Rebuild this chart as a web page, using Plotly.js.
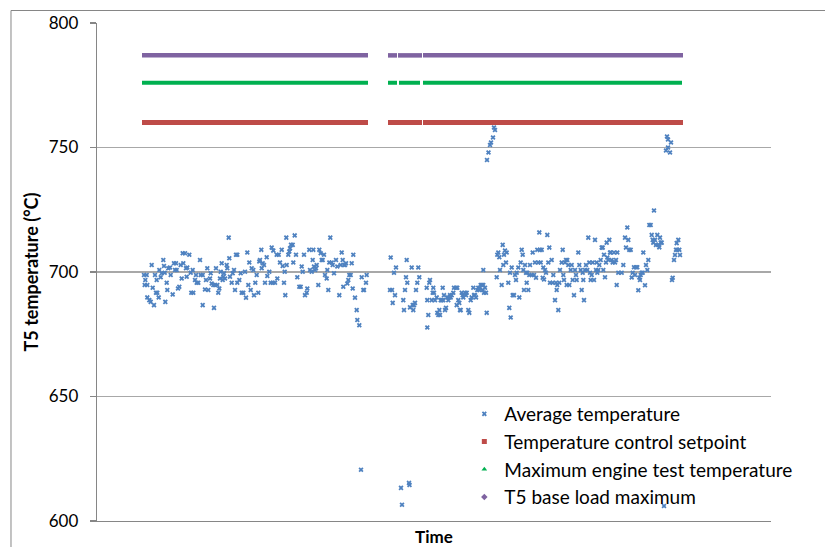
<!DOCTYPE html>
<html>
<head>
<meta charset="utf-8">
<script src="https://cdn.plot.ly/plotly-3.0.1.min.js"></script>
<style>html,body{margin:0;padding:0;background:#fff;}#chart{width:825px;height:547px;}</style>
</head>
<body>
<div id="chart"></div>
<script>
// Time (arbitrary units, no labels on the axis) and average T5 temperature (°C)
const avgPeriodA = [
[47,698.8],[49.7,698.8],[48.3,696.8],[47.7,694.8],[50.3,694.8],[54.7,702.8],[55.7,693.7],[50.3,689.8],[52.3,688.7],[53.7,688.0],
[57,686.7],[58,698.8],[59.7,696.8],[59,691.7],[60.3,691.7],[61.7,689.8],[62.3,700.8],[63.7,697.9],[64.7,699.5],[66.3,704.8],
[67,702.4],[67.7,699.7],[68.3,688.0],[69.7,695.7],[70.3,692.8],[71.3,701.5],[73,701.8],[73.7,698.8],[75.7,691.0],[77,703.5],
[78,700.8],[79,703.5],[79.7,700.8],[81,693.4],[82.3,694.1],[83.7,702.8],[84.7,697.4],[85.7,707.5],[86.3,703.5],[88,707.5],
[89,701.5],[89.7,698.1],[90.3,701.8],[92.3,706.9],[93.7,699.7],[94.3,691.7],[96.3,691.7],[95.7,700.8],[98,696.8],[99,698.8],
[99.7,695.7],[101.3,695.7],[103,704.8],[103.7,698.8],[105.7,686.7],[105.7,698.8],[108,693.0],[109,696.8],[110.3,701.5],[111.3,692.8],
[113,697.4],[113.7,699.5],[114.7,695.4],[116.3,694.8],[117,685.6],[118,694.8],[119,701.5],[120.3,694.8],[121.3,691.7],[122.3,693.4],
[123,697.4],[123.7,700.1],[124.7,703.5],[125.7,696.8],[126.3,698.1],[127,699.5],[128,697.4],[129.7,702.8],[130.3,701.5],[131.7,713.8],
[132.3,705.5],[133,698.1],[134.7,695.7],[135.7,699.5],[137,700.8],[138,692.8],[139,706.9],[140.3,706.9],[140.3,695.7],[142.3,696.8],
[143.7,699.5],[144.7,691.7],[146.3,691.7],[148,700.1],[149,689.7],[150.3,707.8],[151.3,694.8],[152.3,703.8],[153.7,692.8],[154.7,701.5],
[156.3,700.8],[157,690.7],[158.3,695.7],[159.7,698.8],[161.3,691.7],[162.3,704.2],[163,704.8],[164.3,708.9],[164.7,701.5],[165.7,703.5],
[167,702.8],[168,695.7],[169.7,705.9],[170.3,698.4],[172.3,700.1],[173.7,695.7],[174.7,709.8],[175.7,695.7],[176.3,708.6],[178,695.7],
[179.7,706.9],[180.3,697.4],[181.7,706.9],[183,703.8],[184.7,708.9],[185.7,702.4],[187,695.7],[187.7,700.1],[188.3,690.7],[189.3,713.8],
[189.7,702.8],[191.3,706.9],[192.3,708.2],[193,709.5],[194,710.9],[195.7,710.9],[196.3,703.8],[197.7,714.7],[199,706.9],[200.3,697.9],
[202.3,694.1],[203.7,694.1],[204.7,702.2],[205.7,700.1],[207,706.9],[208,690.7],[209.7,691.7],[210.3,693.4],[212.3,708.9],[213,700.8],
[214.7,700.1],[215.7,704.8],[216.3,708.9],[217,702.2],[218,700.8],[219,701.5],[219.7,702.8],[221.3,694.8],[222.3,708.9],[223.7,707.5],
[224.7,704.8],[225.7,704.8],[227,706.9],[228,698.8],[229.7,697.4],[230.3,700.8],[231.3,692.8],[232.3,703.8],[233.3,713.8],[234.7,703.8],
[235.7,702.8],[237,699.5],[239,704.8],[240.3,702.2],[242.3,690.7],[243.7,702.8],[244.7,707.8],[245.7,704.8],[246.3,694.1],[247,702.8],
[248,702.8],[249,703.5],[250.3,695.4],[251.3,696.8],[252.3,698.8],[253.7,698.8],[254.7,703.5],[255.7,693.4],[256.3,706.9],[258,689.7],
[259.7,684.7],[260.3,680.7],[262.3,678.6],[264.7,697.9],[266.3,692.8],[267,692.8],[269,695.7],[269.7,698.8]
];
const avgPeriodB = [
[293.7,705.8],[297,699.7],[299,701.8],[293,692.8],[295,692.8],[295.7,687.6],[298,690.7],[306.3,688.7],[307,684.7],[308,692.8],
[309,697.9],[309.7,704.8],[310.3,695.7],[313,685.8],[314.7,701.8],[315.7,686.7],[317,686.7],[318,687.6],[316.3,684.7],[319,692.8],
[320.3,695.7],[321.3,701.8],[322.3,697.9],[329.7,693.7],[330.3,688.7],[331.3,682.7],[332.3,695.7],[333,696.8],[330.3,677.7],[334.7,688.7],
[335.7,691.7],[336.3,693.7],[337,691.7],[338,688.7],[339.7,689.8],[340.3,683.6],[341.3,682.7],[343,682.7],[342.3,684.7],[343.7,688.7],
[344.7,688.7],[345.7,693.7],[346.3,688.7],[347,690.7],[348,684.7],[349,685.6],[350.3,689.8],[351.3,688.7],[352.3,689.8],[353,690.7],
[353.7,689.8],[354.7,690.7],[356.3,691.7],[357,693.7],[359,693.7],[359.7,686.7],[360.3,693.7],[361.3,688.7],[362.3,687.6],[363,684.7],
[363.7,684.7],[364.7,691.7],[365.7,690.7],[366.3,689.8],[368,691.7],[369,690.7],[369.7,691.7],[371.3,684.7],[372.3,683.6],[373.7,688.7],
[374.7,689.8],[376.3,693.7],[377,690.7],[378,690.7],[379,689.8],[380.3,692.8],[381.3,693.7],[382.3,692.8],[383,693.7],[383.7,694.8],
[385,694.8],[385.7,692.8],[386.3,694.8],[387,691.7],[388,693.7],[389,691.7],[389.7,683.6],[386.3,700.8],[399.7,697.9],[400.3,706.9],
[401.3,707.8],[402.3,705.9],[403,700.8],[404.7,694.8],[405.7,710.9],[406.3,702.8],[407,706.9],[408,708.6],[409,703.8],[409.7,707.8],
[411.3,695.7],[412.3,685.6],[413,699.7],[413.7,681.7],[414.7,701.8],[415.7,690.7],[417,690.7],[418,698.8],[419,696.8],[419.7,699.7],
[421.3,701.8],[422.3,689.8],[423.7,703.8],[424.7,708.9],[425.7,706.9],[426.3,700.8],[427,692.8],[428,702.8],[429,699.7],[429.7,695.7],
[430.3,699.7],[431.3,692.8],[432.3,698.8],[433,702.8],[434.7,698.8],[435.7,707.8],[437,698.8],[438,703.8],[439,697.7],[440.3,708.9],
[441.3,703.8],[442.3,715.9],[443,708.9],[443.7,703.8],[444.7,708.9],[445.7,697.7],[446.3,701.8],[447,697.0],[448,700.8],[449,699.7],
[450.3,714.9],[451.3,703.8],[452.3,709.8],[453,695.7],[454.7,704.8],[455.7,695.7],[456.3,698.8],[458,688.7],[459,695.7],[459.7,692.8],
[460.3,694.8],[461.3,684.7],[462.3,695.7],[463,700.8],[464.7,703.8],[465.7,708.9],[466.3,698.8],[467,696.8],[468,703.8],[469,704.8],
[469.7,694.8],[470.3,704.8],[471.3,702.8],[472.3,694.8],[473.7,700.8],[474.7,702.8],[475.7,696.8],[477,690.7],[478,700.8],[479,698.8],
[479.7,696.8],[481.3,707.8],[482.3,702.8],[483.7,700.8],[484.7,692.8],[485.7,699.7],[486.3,696.8],[487,688.7],[488,700.8],[489,702.8],
[490.3,700.8],[491.3,713.8],[492.3,703.8],[493,699.7],[493.7,696.8],[494.7,698.8],[495.7,703.8],[497,696.8],[498,712.9],[499,700.8],
[499.7,703.8],[500.3,699.7],[501.3,700.8],[502.3,702.8],[503.7,704.8],[504.7,709.8],[505.7,709.8],[506.3,700.8],[507,706.9],[508,697.9],
[509,703.8],[509.7,711.8],[510.3,705.8],[511.3,704.8],[512.3,712.9],[513,707.8],[513.7,707.8],[514.7,704.8],[515.7,703.8],[517,707.8],
[518,703.8],[519,704.8],[519.7,694.8],[520.3,707.8],[521.3,699.7]
];
const avgPeriodC = [
[524.7,699.7],[526.3,702.8],[528,713.8],[529,709.8],[530.3,717.9],[531.3,712.9],[532.3,708.9],[533.7,708.9],[534.7,697.8],[535.7,699.7],
[537,701.9],[538,698.8],[539,701.9],[540.3,701.9],[541.3,692.7],[542.3,697.8],[543,696.8],[543.7,698.8],[544.7,699.7],[545.7,699.7],
[546.3,707.8],[548,694.7],[549,702.8],[550.3,700.8],[551.3,704.8],[552.3,718.9],[553.7,718.9],[554.7,714.9],[555.7,712.9],[556.3,711.8],
[557,724.7],[558,712.9],[559,710.9],[560.3,714.9],[561.3,710.9],[562.3,709.9],[563.7,711.8],[564.7,711.8],[563,713.8],[575,696.8],
[575.7,697.7],[577,704.8],[578,706.8],[579,708.9],[579.7,711.6],[580.3,708.9],[581.3,712.9],[582.3,708.9],[583,706.8]
];
const avgExcursions = [
[264,620.6],[304,613.3],[305,606.5],[312,615.3],[312.5,614.5],
[390,745],[391.5,748],[393,751],[394,752],[396,754],[397,758],[398,757],
[569,748.8],[570,754.4],[571,753.2],[571,750],[573,748],[574,752],
[567,606]
];

// Constant reference levels (°C) and the time spans over which they were logged
const setpointTemp = 760;
const engineTestMaxTemp = 776;
const baseLoadMaxTemp = 787;
const setpointSpans = [[45,271],[291,325],[326,586]];
const engineTestSpans = [[45,271],[291,300],[302,323],[326,585]];
const baseLoadSpans = [[45,271],[291,300],[301,325],[326,586]];

const seriesNames = ["Average temperature","Temperature control setpoint","Maximum engine test temperature","T5 base load maximum"];
const yTicks = [600,650,700,750,800];

const allAvg = avgPeriodA.concat(avgPeriodB, avgPeriodC, avgExcursions);

function spanTrace(spans, level, color, width) {
  const x = [], y = [];
  spans.forEach(s => { x.push(s[0], s[1], null); y.push(level, level, null); });
  return {x, y, type:'scatter', mode:'lines', line:{color, width}, showlegend:false, hoverinfo:'skip', connectgaps:false};
}
function legendTrace(name, symbol, color, size) {
  return {x:[null], y:[null], type:'scatter', mode:'markers', name, marker:{symbol, color, size}};
}

const red = '#be4b48', green = '#00b050', purple = '#7f63a1';

const data = [
  {x: allAvg.map(p=>p[0]), y: allAvg.map(p=>p[1]), type:'scatter', mode:'markers', name: seriesNames[0],
   marker:{symbol:'x', size:4.5, color:'#4f82c0'}},
  spanTrace(setpointSpans, setpointTemp, red, 5),
  spanTrace(engineTestSpans, engineTestMaxTemp, green, 4),
  spanTrace(baseLoadSpans, baseLoadMaxTemp, purple, 4.5),
  legendTrace(seriesNames[1], 'square', red, 5),
  legendTrace(seriesNames[2], 'triangle-up', green, 5),
  legendTrace(seriesNames[3], 'diamond', purple, 5)
];

const layout = {
  width:825, height:547,
  margin:{l:97, r:54, t:23, b:26, pad:0},
  paper_bgcolor:'#ffffff', plot_bgcolor:'#ffffff',
  font:{family:'Lato, "Open Sans", sans-serif', size:17, color:'#000'},
  showlegend:true,
  legend:{x:0.545, y:0.253, xanchor:'left', yanchor:'top', bgcolor:'rgba(0,0,0,0)', borderwidth:0,
          font:{family:'Lato, sans-serif', size:19, color:'#000'}, tracegroupgap:0},
  xaxis:{range:[0,674], showline:true, linecolor:'#868686', linewidth:1.3, showgrid:false, zeroline:false,
         showticklabels:false, ticks:'', fixedrange:true,
         title:{text:'Time', font:{family:'Lato, sans-serif', size:17, color:'#000', weight:'bold'}, standoff:9}},
  yaxis:{range:[600,800], tickvals:yTicks, ticktext:yTicks.map(String), showline:true, linecolor:'#868686', linewidth:1.3,
         ticks:'outside', ticklen:6, tickcolor:'#868686', tickwidth:1.3, ticklabelstandoff:8,
         showgrid:true, gridcolor:'#a8a8a8', gridwidth:1.2, zeroline:false,
         tickfont:{family:'Lato, sans-serif', size:17, color:'#000'},
         title:{text:'T5 temperature (°C)', font:{family:'Lato, sans-serif', size:18, color:'#000', weight:'bold'}, standoff:5}},
  shapes:[{type:'rect', xref:'paper', yref:'paper', x0:-0.1276, x1:1.09, y0:-0.06, y1:1.0251,
           line:{color:'#868686', width:1}, fillcolor:'rgba(0,0,0,0)', layer:'below'}]
};

Plotly.newPlot('chart', data, layout, {displayModeBar:false, staticPlot:true});
</script>
</body>
</html>
